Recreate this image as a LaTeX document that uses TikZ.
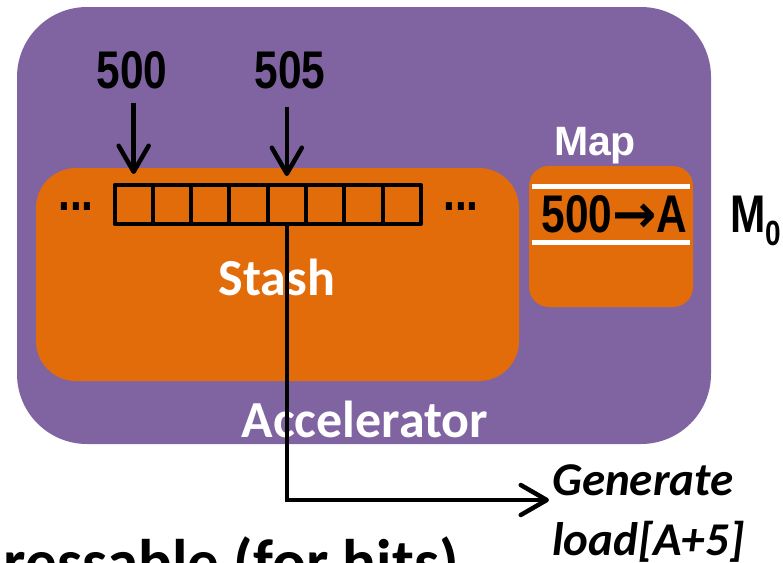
\documentclass[tikz,border=0pt]{standalone}
\usepackage{fontspec}
\setmainfont{Carlito}
\newfontfamily\narrowsans[FakeStretch=0.8]{Liberation Sans}
\newfontfamily\plainsans{Liberation Sans}
\newfontfamily\arrowsans{DejaVu Sans}
\usetikzlibrary{arrows.meta}
\definecolor{accpurple}{HTML}{8064A2}
\definecolor{stashorange}{HTML}{E36C0A}
\tikzset{
  panel/.style={fill=#1, draw=none, inner sep=0pt},
  numlabel/.style={font=\narrowsans\bfseries\fontsize{53}{53}\selectfont, inner sep=0pt, anchor=base},
  maplabel/.style={font=\plainsans\bfseries\fontsize{41}{41}\selectfont, inner sep=0pt, anchor=base, text=white},
  boxlabel/.style={font=\bfseries\fontsize{52}{52}\selectfont, inner sep=0pt, anchor=base, text=white},
  notelabel/.style={font=\bfseries\itshape\fontsize{47}{47}\selectfont, inner sep=0pt, anchor=base west},
  cell/.style={draw=black, line width=4pt, minimum width=38.3pt, minimum height=39pt, inner sep=0pt, line join=round},
  pointer/.style={draw=black, line width=4.5pt, -{Straight Barb[length=26pt,width=30pt,round]}},
  divider/.style={draw=white, line width=5pt}
}
\begin{document}
\begin{tikzpicture}[x=1pt,y=-1pt]
  \useasboundingbox (0,0) rectangle (783,562);

  % accelerator, stash and map panels
  \node[panel=accpurple, rounded corners=70pt, minimum width=694pt, minimum height=437pt] (acc) at (364,225.5) {};
  \node[panel=stashorange, rounded corners=40pt, minimum width=483pt, minimum height=213pt] (stash) at (277.5,274.5) {};
  \node[panel=stashorange, rounded corners=20pt, minimum width=164pt, minimum height=141pt] (mapbox) at (611,236.5) {};

  % stash entries
  \foreach \k in {1,...,8}
    \node[cell] (c\k) at ({114.5+38.3*(\k-0.5)},204.5) {};
  \node[numlabel] (dotsl) at (76,210) {...};
  \node[numlabel] (dotsr) at (461,210) {...};

  % labels
  \node[numlabel] (n500) at (132,88) {500};
  \node[numlabel] (n505) at (290,88) {505};
  \node[maplabel] (maptitle) at (595,155) {Map};
  \node[numlabel] (entry) at (614.5,232) {500{\arrowsans\bfseries →}A};
  \node[numlabel, anchor=base west] (mzero) at (730,232) {M\raisebox{-13pt}{\fontsize{35}{35}\selectfont 0}};
  \node[boxlabel] (stashlabel) at (277,295) {Stash};
  \node[boxlabel] (acclabel) at (365,437) {Accelerator};
  \node[notelabel] (gen) at (552,495) {Generate};
  \node[notelabel] (load) at (552,555) {load[A+5]};
  \node[font=\bfseries\fontsize{63}{63}\selectfont, inner sep=0pt, anchor=base east] (addr) at (459,583) {Addressable (for hits)};

  % map entry separators
  \draw[divider] (532,186) -- (690,186);
  \draw[divider] (532,242) -- (690,242);

  % pointers into the stash
  \draw[pointer, shorten <=14pt, shorten >=9pt] (c1.north |- n500.south) -- (c1.north);
  \draw[pointer, shorten <=18pt, shorten >=7pt] (c5.north |- n505.south) -- (c5.north);

  % translated load request
  \draw[pointer, line join=miter, shorten >=3pt] (c5.south) |- ([yshift=-5pt]gen.base west);
\end{tikzpicture}
\end{document}
